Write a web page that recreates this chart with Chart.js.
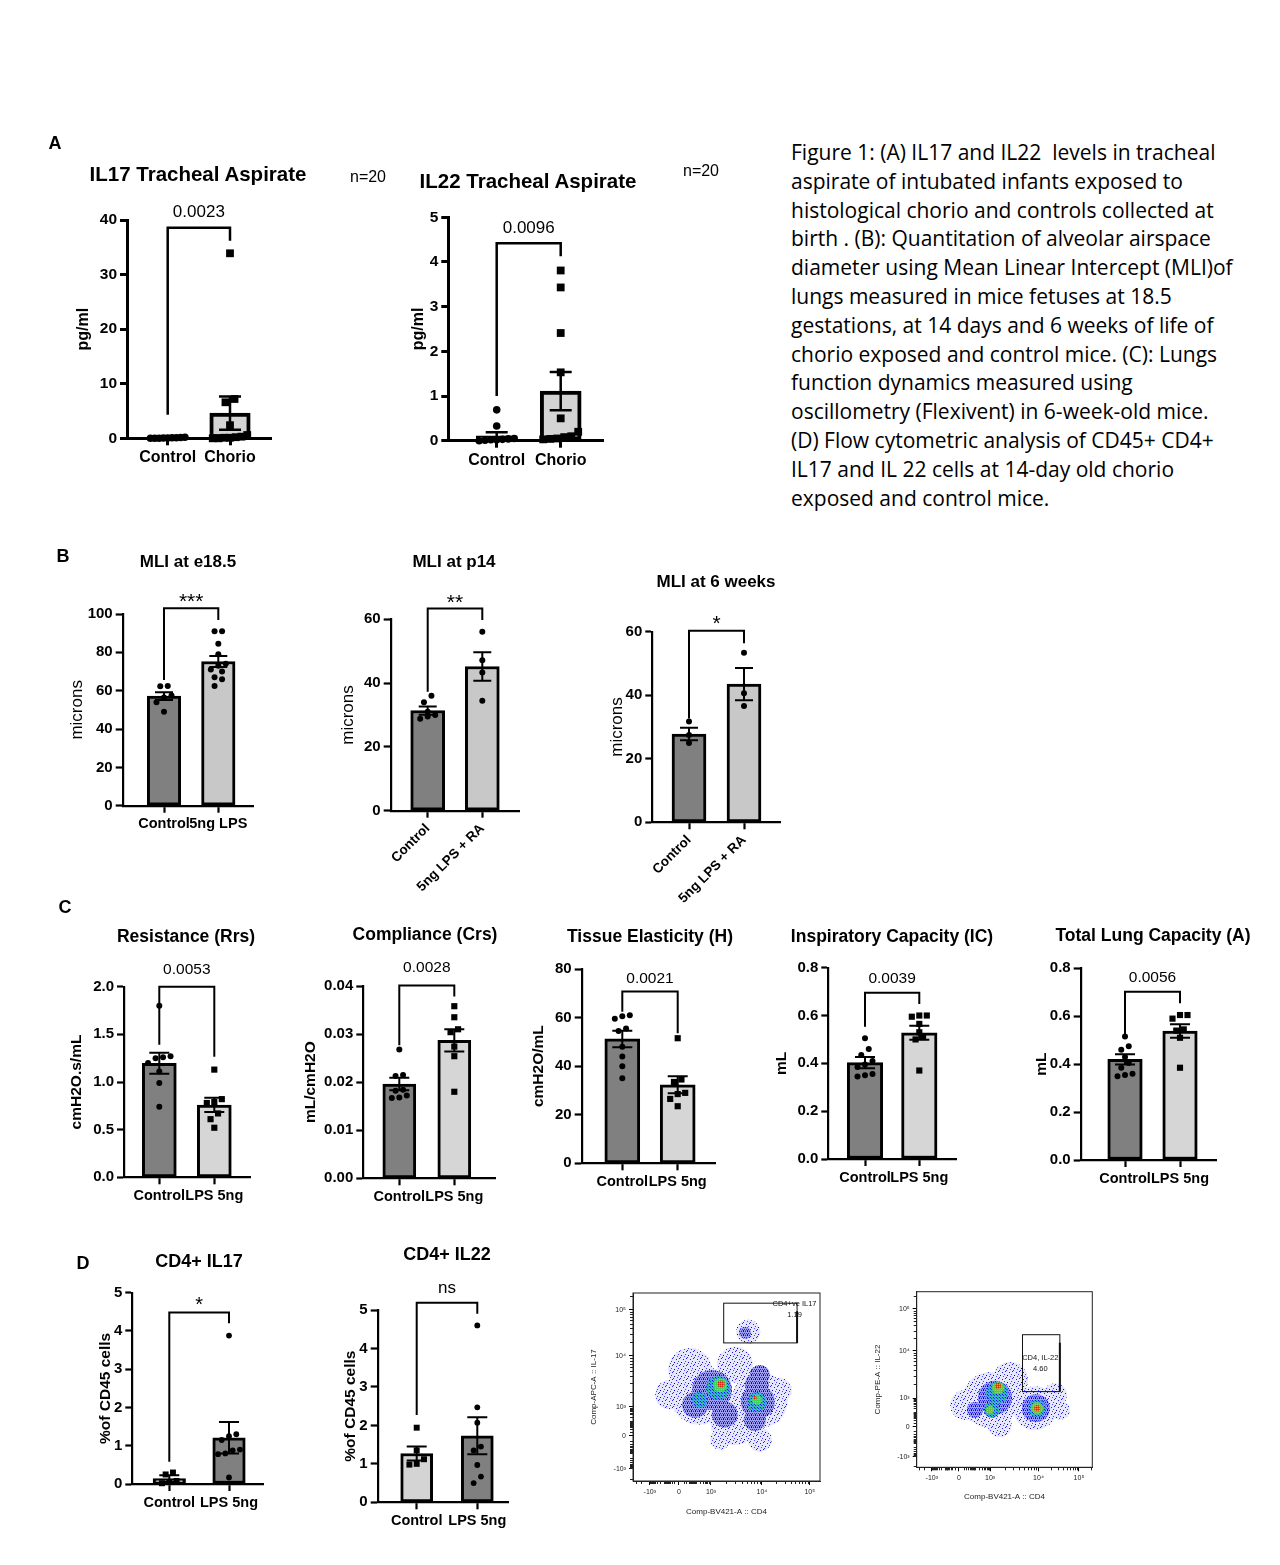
<!DOCTYPE html>
<html>
<head>
<meta charset="utf-8">
<script src="https://cdn.jsdelivr.net/npm/chart.js@4.4.1/dist/chart.umd.min.js"></script>
<style>
html, body { margin: 0; padding: 0; background: #fff; }
#page { position: relative; width: 1280px; height: 1565px; overflow: hidden; background: #fff;
        font-family: "Liberation Sans", Arial, sans-serif; color: #000; }
.t { position: absolute; white-space: nowrap; transform: translate(-50%, -50%); line-height: 1; }
#caption { position: absolute; left: 791px; top: 138px; font-family: "Open Sans", sans-serif;
           font-size: 21px; line-height: 28.8px; white-space: nowrap; }
canvas { position: absolute; }
</style>
</head>
<body>
<div id="page">
  <div id="caption">
    <div>Figure 1: (A) IL17 and IL22&nbsp; levels in tracheal</div>
    <div>aspirate of intubated infants exposed to</div>
    <div>histological chorio and controls collected at</div>
    <div>birth . (B): Quantitation of alveolar airspace</div>
    <div>diameter using Mean Linear Intercept (MLI)of</div>
    <div>lungs measured in mice fetuses at 18.5</div>
    <div>gestations, at 14 days and 6 weeks of life of</div>
    <div>chorio exposed and control mice. (C): Lungs</div>
    <div>function dynamics measured using</div>
    <div>oscillometry (Flexivent) in 6-week-old mice.</div>
    <div>(D) Flow cytometric analysis of CD45+ CD4+</div>
    <div>IL17 and IL 22 cells at 14-day old chorio</div>
    <div>exposed and control mice.</div>
  </div>
</div>
<script>
// ---------- data ----------
const groupsA = ['Control', 'Chorio'];
const groupsB = ['Control', '5ng LPS'];
const groupsB2 = ['Control', '5ng LPS + RA'];
const groupsC = ['Control', 'LPS 5ng'];

// A: tracheal aspirate (pg/ml)
const il17Control = [0.2, 0.15, 0.1, 0.1, 0.05, 0.05, 0, 0, 0];
const il17Chorio = [33.9, 7.2, 6.6, 2.4, 0.6, 0.3, 0.2, 0.1, 0.1, 0, 0];
const il17Mean = [0.1, 4.6];
const il17Sem = [0.08, 3.05];

const il22Control = [0.69, 0.33, 0.05, 0.04, 0.03, 0.02, 0.02, 0.01, 0.0];
const il22Chorio = [3.81, 3.43, 2.41, 1.53, 0.5, 0.2, 0.1, 0.08, 0.05, 0.04, 0.03];
const il22Mean = [0.11, 1.11];
const il22Sem = [0.08, 0.43];

// B: mean linear intercept (microns)
const mliE185Control = [62.5, 62.3, 57.5, 56.5, 54, 49];
const mliE185Lps = [91, 91, 84.5, 79, 74, 73, 71, 70, 67, 66, 62.5];
const mliE185Mean = [57.2, 75.2];
const mliE185Sem = [2.0, 2.9];

const mliP14Control = [36, 34, 31, 30, 29.5, 28.8];
const mliP14Lps = [56.1, 47.2, 43.3, 34.5];
const mliP14Mean = [31.4, 45.2];
const mliP14Sem = [1.3, 4.5];

const mli6wControl = [31.7, 27.5, 25];
const mli6wLps = [53.4, 40.6, 36.6];
const mli6wMean = [27.8, 43.5];
const mli6wSem = [2.0, 5.1];

// C: flexivent
const rrsControl = [1.80, 1.27, 1.26, 1.25, 1.20, 1.11, 0.99, 0.74];
const rrsLps = [1.13, 0.82, 0.79, 0.78, 0.67, 0.61, 0.52];
const rrsMean = [1.196, 0.759];
const rrsSem = [0.11, 0.075];

const crsControl = [0.0268, 0.0215, 0.0213, 0.0184, 0.0182, 0.0172, 0.0168, 0.0167];
const crsLps = [0.0358, 0.0335, 0.031, 0.0304, 0.0274, 0.0254, 0.018];
const crsMean = [0.0196, 0.0287];
const crsSem = [0.0013, 0.0023];

const hControl = [61, 60.5, 59.5, 55.5, 54.5, 48, 44, 40, 35];
const hLps = [51.5, 34.5, 33.5, 29, 28.5, 26.5, 23.5];
const hMean = [51.2, 32.3];
const hSem = [3.4, 3.5];

const icControl = [0.505, 0.46, 0.435, 0.41, 0.395, 0.385, 0.355, 0.35, 0.345];
const icLps = [0.60, 0.60, 0.595, 0.565, 0.53, 0.51, 0.50, 0.37];
const icMean = [0.403, 0.528];
const icSem = [0.024, 0.029];

const tlcControl = [0.515, 0.475, 0.46, 0.43, 0.405, 0.385, 0.36, 0.355, 0.35];
const tlcLps = [0.605, 0.605, 0.59, 0.545, 0.54, 0.51, 0.385];
const tlcMean = [0.42, 0.538];
const tlcSem = [0.021, 0.028];

// D: % of CD45 cells
const cd4Il17Control = [0.3, 0.25, 0.08, 0.05, 0.02];
const cd4Il17Lps = [3.88, 1.3, 1.25, 1.15, 0.9, 0.88, 0.8, 0.78, 0.17];
const cd4Il17Mean = [0.14, 1.21];
const cd4Il17Sem = [0.09, 0.41];

const cd4Il22Control = [1.94, 1.35, 1.12, 1.0, 0.98];
const cd4Il22Lps = [4.6, 2.47, 2.07, 1.45, 1.35, 0.97, 0.67, 0.5];
const cd4Il22Mean = [1.27, 1.73];
const cd4Il22Sem = [0.18, 0.48];

// flow plots: axis in display (biexponential) units, cluster blobs by density level
const flowTickLabels = ['-10³', '0', '10³', '10⁴', '10⁵'];
const flow1XTicks = [1.80, 2.37, 3, 4, 4.94];
const flow1YTicks = [1.72, 2.40, 3, 4.05, 5.0];
const flow2XTicks = [1.69, 2.30, 3, 4.09, 5.0];
const flow2YTicks = [1.69, 2.36, 3, 4.06, 5.0];

const flow1Sparse = [{x: 2.78, y: 3.25, r: 30}, {x: 3.96, y: 3.14, r: 28}, {x: 2.59, y: 3.76, r: 22}, {x: 3.47, y: 2.73, r: 25},
  {x: 2.20, y: 3.25, r: 15}, {x: 4.35, y: 3.35, r: 12}, {x: 3.18, y: 2.32, r: 10}, {x: 3.96, y: 2.32, r: 12},
  {x: 3.73, y: 4.55, r: 12}, {x: 3.47, y: 3.87, r: 18}];
const flow1Medium = [{x: 3.02, y: 3.35, r: 20}, {x: 3.92, y: 3.10, r: 17}, {x: 2.69, y: 3.04, r: 13}, {x: 3.96, y: 3.66, r: 10},
  {x: 3.27, y: 2.84, r: 13}, {x: 3.67, y: 4.53, r: 6}, {x: 3.90, y: 3.45, r: 12}, {x: 3.86, y: 2.73, r: 11}];
const flow1Dense = [{x: 3.14, y: 3.39, r: 12}, {x: 3.90, y: 3.10, r: 10}, {x: 2.78, y: 3.14, r: 8}];
const flow1High = [{x: 3.18, y: 3.45, r: 7}, {x: 3.90, y: 3.14, r: 5}];
const flow1Peak = [{x: 3.20, y: 3.47, r: 3.5}, {x: 3.86, y: 3.19, r: 2}];
const flow1Gate = {x0: 3.25, x1: 4.69, y0: 4.32, y1: 5.14};
const flow1GateText = ['CD4+ve IL17', '1.19'];

const flow2Sparse = [{x: 3.00, y: 2.96, r: 28}, {x: 4.01, y: 2.78, r: 22}, {x: 2.44, y: 2.85, r: 15}, {x: 3.45, y: 3.41, r: 18},
  {x: 4.46, y: 3.07, r: 12}, {x: 3.22, y: 2.40, r: 12}, {x: 4.57, y: 2.74, r: 10}];
const flow2Medium = [{x: 3.11, y: 3.01, r: 17}, {x: 4.03, y: 2.78, r: 14}, {x: 2.66, y: 2.74, r: 8}];
const flow2Dense = [{x: 3.16, y: 3.12, r: 11}, {x: 3.04, y: 2.74, r: 8}, {x: 4.06, y: 2.78, r: 9}];
const flow2High = [{x: 3.18, y: 3.23, r: 6}, {x: 4.06, y: 2.78, r: 6}, {x: 3.00, y: 2.74, r: 4}];
const flow2Peak = [{x: 3.18, y: 3.28, r: 3}, {x: 4.06, y: 2.78, r: 3}];
const flow2Gate = {x0: 3.73, x1: 4.57, y0: 3.15, y1: 4.42};
const flow2GateText = ['CD4, IL-22', '4.60'];

// ---------- helpers ----------
Chart.defaults.font.family = '"Liberation Sans", Arial, sans-serif';
Chart.defaults.color = '#000';
const page = document.getElementById('page');
const barSpec = new Map();
const flowSpec = new Map();

function addText(text, x, y, size, bold, color) {
  const d = document.createElement('div');
  d.className = 't';
  d.textContent = text;
  d.style.left = x + 'px';
  d.style.top = y + 'px';
  d.style.fontSize = size + 'px';
  d.style.fontWeight = bold ? 'bold' : 'normal';
  if (color) d.style.color = color;
  page.appendChild(d);
}

// canvas positioned so that the chart area lands at (x0, yTop)
function place(x0, yTop, plotW, plotH, W, T, R, H) {
  const left = Math.round(x0 - W), top = Math.round(yTop - T);
  const Wp = x0 - left, Tp = yTop - top;
  const w = Math.round(Wp + plotW + R), h = Math.round(Tp + plotH + H);
  const cv = document.createElement('canvas');
  cv.width = w; cv.height = h;
  cv.style.left = left + 'px'; cv.style.top = top + 'px';
  cv.style.width = w + 'px'; cv.style.height = h + 'px';
  page.appendChild(cv);
  return { cv, Wp, Tp, Rp: w - Wp - plotW, Hp: h - Tp - plotH };
}

// rows of near-equal values spread sideways, like a prism scatter
function swarm(vals, ppy, diam, half) {
  const order = vals.map((v, i) => i).sort((a, b) => vals[a] - vals[b]);
  const offs = vals.map(() => 0);
  let row = [];
  const flush = () => {
    const k = row.length;
    const step = k > 1 ? Math.min(diam, 2 * half / (k - 1)) : 0;
    row.forEach((j, n) => { offs[j] = (n - (k - 1) / 2) * step; });
    row = [];
  };
  order.forEach(i => {
    if (row.length && (vals[i] - vals[row[0]]) * ppy > diam * 0.9) flush();
    row.push(i);
  });
  flush();
  return offs;
}

const barDeco = {
  id: 'barDeco',
  afterDatasetsDraw(chart) {
    const s = barSpec.get(chart.canvas);
    if (!s) return;
    const ctx = chart.ctx, x = chart.scales.x, y = chart.scales.y;
    ctx.save();
    ctx.strokeStyle = '#000';
    ctx.lineWidth = s.ew;
    s.means.forEach((m, i) => {
      const px = x.getPixelForValue(i);
      const hi = y.getPixelForValue(m + s.sems[i]);
      const lo = y.getPixelForValue(Math.max(m - s.sems[i], 0));
      ctx.beginPath();
      ctx.moveTo(px, hi); ctx.lineTo(px, lo);
      ctx.moveTo(px - s.cap, hi); ctx.lineTo(px + s.cap, hi);
      ctx.moveTo(px - s.cap, lo); ctx.lineTo(px + s.cap, lo);
      ctx.stroke();
    });
    const b = s.br;
    const xl = x.getPixelForValue(0), xr = x.getPixelForValue(1), yt = y.getPixelForValue(b.top);
    ctx.lineWidth = s.lw;
    ctx.beginPath();
    ctx.moveTo(xl, y.getPixelForValue(b.left));
    ctx.lineTo(xl, yt); ctx.lineTo(xr, yt);
    ctx.lineTo(xr, y.getPixelForValue(b.right));
    ctx.stroke();
    ctx.fillStyle = '#000';
    ctx.font = s.sigSize + 'px "Liberation Sans", Arial, sans-serif';
    ctx.textAlign = 'center';
    ctx.textBaseline = 'alphabetic';
    const k = /\*/.test(s.sig) ? 0.55 : /^[a-z]+$/.test(s.sig) ? 0.26 : 0.36;
    ctx.fillText(s.sig, (xl + xr) / 2, y.getPixelForValue(b.label) + k * s.sigSize);
    ctx.restore();
  }
};

function minorTicks(tp) {
  const out = [];
  const f = v => Math.log10(1 + v / 10) / Math.log10(101);
  [10, 20, 30, 40, 50, 60, 70, 80, 90, 100, 200, 300, 400, 500, 600, 700, 800, 900].forEach(v => {
    out.push(tp[1] + (tp[2] - tp[1]) * f(v));
    out.push(tp[1] - (tp[1] - tp[0]) * f(v));
  });
  for (let k = 2; k <= 9; k++) {
    out.push(tp[2] + (tp[3] - tp[2]) * Math.log10(k));
    out.push(tp[3] + (tp[4] - tp[3]) * Math.log10(k));
    out.push(tp[0] - (tp[1] - tp[0]) * Math.log10(k));
    out.push(tp[4] + (tp[4] - tp[3]) * Math.log10(k));
  }
  return out;
}

const flowDeco = {
  id: 'flowDeco',
  afterDraw(chart) {
    const f = flowSpec.get(chart.canvas);
    if (!f) return;
    const ctx = chart.ctx, a = chart.chartArea, x = chart.scales.x, y = chart.scales.y;
    ctx.save();
    ctx.strokeStyle = '#222';
    ctx.lineWidth = 1;
    ctx.strokeRect(a.left, a.top, a.right - a.left, a.bottom - a.top);
    ctx.beginPath();
    minorTicks(f.xt).forEach(v => {
      if (v <= f.xr[0] || v >= f.xr[1]) return;
      const px = Math.round(x.getPixelForValue(v)) + 0.5;
      ctx.moveTo(px, a.bottom); ctx.lineTo(px, a.bottom + 3);
    });
    minorTicks(f.yt).forEach(v => {
      if (v <= f.yr[0] || v >= f.yr[1]) return;
      const py = Math.round(y.getPixelForValue(v)) + 0.5;
      ctx.moveTo(a.left, py); ctx.lineTo(a.left - 3, py);
    });
    ctx.stroke();
    const g = f.gate;
    const gx0 = x.getPixelForValue(g.x0), gx1 = x.getPixelForValue(g.x1);
    const gy0 = y.getPixelForValue(g.y0), gy1 = y.getPixelForValue(g.y1);
    ctx.strokeStyle = '#111';
    ctx.strokeRect(gx0, gy1, gx1 - gx0, gy0 - gy1);
    ctx.lineWidth = 2;
    ctx.beginPath(); ctx.moveTo(gx1, gy1 + 8); ctx.lineTo(gx1, gy0); ctx.stroke();
    ctx.fillStyle = '#111';
    ctx.font = '7.5px "Liberation Sans", Arial, sans-serif';
    ctx.textAlign = 'center';
    ctx.textBaseline = 'middle';
    f.gateText.forEach((t, i) => ctx.fillText(t, x.getPixelForValue(f.label.x), y.getPixelForValue(f.label.y[i])));
    ctx.restore();
  }
};

Chart.register(barDeco, flowDeco);

function barChart(s) {
  const plotW = s.xEnd - s.x0, plotH = s.yBot - s.yTop;
  const W = s.x0 - s.ytx + 0.6 * s.ytSize;
  const p = place(s.x0, s.yTop, plotW, plotH, W, 48, 30, s.rot ? 110 : 38);
  barSpec.set(p.cv, s);
  const ppx = s.pos[1] - s.pos[0];
  const ppy = plotH / s.yMax;
  const diam = 2 * s.ptR + 1.5;
  const pts = s.points.map((vals, g) => {
    const offs = swarm(vals, ppy, diam, s.barW / 2 - 3);
    return {
      type: 'scatter', order: 0, clip: false,
      data: vals.map((v, i) => ({ x: g + offs[i] / ppx, y: v })),
      pointStyle: s.shapes[g],
      pointRadius: s.shapes[g] === 'rect' ? s.ptR * 1.45 : s.ptR,
      backgroundColor: '#000', borderColor: '#000', borderWidth: 0
    };
  });
  const grid = { display: true, drawOnChartArea: false, drawTicks: true, tickLength: 7,
                 tickWidth: s.aw, tickColor: '#000', offset: false };
  const border = { display: true, width: s.aw, color: '#000' };
  new Chart(p.cv, {
    type: 'bar',
    data: {
      datasets: [{
        type: 'bar', order: 2,
        data: s.means.map((m, i) => ({ x: i, y: m })),
        backgroundColor: s.colors, borderColor: '#000', borderWidth: s.bw,
        borderSkipped: false, barThickness: s.barW
      }, ...pts]
    },
    options: {
      responsive: false, animation: false, events: [],
      layout: { autoPadding: false, padding: { top: p.Tp, right: p.Rp, left: 0, bottom: 0 } },
      plugins: { legend: { display: false }, tooltip: { enabled: false } },
      scales: {
        x: {
          type: 'linear', offset: false,
          min: -(s.pos[0] - s.x0) / ppx, max: 1 + (s.xEnd - s.pos[1]) / ppx,
          afterBuildTicks: sc => { sc.ticks = [{ value: 0 }, { value: 1 }]; },
          afterFit: sc => { sc.height = p.Hp; sc.paddingLeft = 0; sc.paddingRight = 0; },
          ticks: { autoSkip: false, maxRotation: s.rot, minRotation: s.rot, padding: 3, color: '#000',
                   font: { size: s.labelSize, weight: 'bold' }, callback: v => s.labels[v] },
          grid, border
        },
        y: {
          type: 'linear', min: 0, max: s.yMax,
          afterFit: sc => { sc.width = p.Wp; sc.paddingTop = 0; sc.paddingBottom = 0; },
          ticks: { stepSize: s.step, padding: 3, color: '#000',
                   font: { size: s.tickSize, weight: 'bold' }, callback: v => v.toFixed(s.dec) },
          title: { display: true, text: s.yTitle, padding: 0, color: '#000',
                   font: { size: s.ytSize, weight: s.ytBold ? 'bold' : 'normal' } },
          grid, border
        }
      }
    }
  });
  addText(s.title, s.tx, s.ty, s.tsize, true);
}

// speckled fills: a light base with scattered event-coloured pixels
function speckle(size, base, dots) {
  const c = document.createElement('canvas');
  c.width = c.height = size;
  const g = c.getContext('2d');
  g.fillStyle = base;
  g.fillRect(0, 0, size, size);
  dots.forEach(([dx, dy, col]) => { g.fillStyle = col; g.fillRect(dx, dy, 1, 1); });
  return g.createPattern(c, 'repeat');
}

const flowFills = [
  speckle(7, '#e6e6fd', [[0, 0, '#2b2bff'], [3, 2, '#1c1cd8'], [5, 4, '#3d3dff'], [1, 5, '#0000b0'], [4, 6, '#4a4aff'], [6, 1, '#2020e8']]),
  speckle(4, '#9c9cf3', [[0, 0, '#1a1aff'], [2, 0, '#0000c0'], [1, 2, '#3030ff'], [3, 2, '#1f1fe0'], [0, 3, '#20a0e0'], [2, 3, '#1010b8']]),
  speckle(3, '#44a0d4', [[0, 0, '#1010e0'], [1, 0, '#20c0e0'], [2, 1, '#28c870'], [0, 2, '#30d0c0'], [1, 1, '#1a40ff']]),
  speckle(2, '#6cc446', [[0, 0, '#a8d820'], [1, 1, '#40d060']]),
  speckle(2, '#e8581c', [[0, 0, '#f0a020'], [1, 1, '#d82010']])
];

function flowChart(f) {
  const plotW = f.right - f.left, plotH = f.bottom - f.top;
  const p = place(f.left, f.top, plotW, plotH, f.left - f.ytx + 4.8, 6, 14, f.xty + 4.8 - f.bottom);
  flowSpec.set(p.cv, f);
  const levels = [f.sparse, f.medium, f.dense, f.high, f.peak];
  const grid = { display: true, drawOnChartArea: false, drawTicks: true, tickLength: 4,
                 tickWidth: 1, tickColor: '#000' };
  const border = { display: true, width: 1, color: '#222' };
  new Chart(p.cv, {
    type: 'bubble',
    data: { datasets: levels.map((d, i) => ({ data: d, backgroundColor: flowFills[i], borderWidth: 0, order: 5 - i })) },
    options: {
      responsive: false, animation: false, events: [],
      layout: { autoPadding: false, padding: { top: p.Tp, right: p.Rp, left: 0, bottom: 0 } },
      plugins: { legend: { display: false }, tooltip: { enabled: false } },
      scales: {
        x: {
          type: 'linear', min: f.xr[0], max: f.xr[1],
          afterBuildTicks: sc => { sc.ticks = f.xt.map(v => ({ value: v })); },
          afterFit: sc => { sc.height = p.Hp; sc.paddingLeft = 0; sc.paddingRight = 0; },
          ticks: { autoSkip: false, maxRotation: 0, minRotation: 0, padding: 3, color: '#222',
                   font: { size: 7 }, callback: (v, i) => flowTickLabels[i] },
          title: { display: true, text: f.xTitle, padding: 0, color: '#222', font: { size: 8 } },
          grid, border
        },
        y: {
          type: 'linear', min: f.yr[0], max: f.yr[1],
          afterBuildTicks: sc => { sc.ticks = f.yt.map(v => ({ value: v })); },
          afterFit: sc => { sc.width = p.Wp; sc.paddingTop = 0; sc.paddingBottom = 0; },
          ticks: { autoSkip: false, padding: 3, color: '#222', font: { size: 7 },
                   callback: (v, i) => flowTickLabels[i] },
          title: { display: true, text: f.yTitle, padding: 0, color: '#222', font: { size: 8 } },
          grid, border
        }
      }
    }
  });
}

// ---------- layout ----------
const colorsA = ['#ffffff', '#d4d4d4'];
const colorsB = ['#808080', '#c8c8c8'];
const colorsC = ['#808080', '#d6d6d6'];
const colorsD = ['#d4d4d4', '#808080'];

const styleA = { tsize: 20.5, ytSize: 16, ytBold: true, tickSize: 15.5, labelSize: 16, rot: 0,
                 bw: 4, aw: 3, ew: 2.5, lw: 2.5, cap: 11, ptR: 3.8, sigSize: 17, shapes: ['circle', 'rect'], colors: colorsA, labels: groupsA };
const styleB = { tsize: 17, ytSize: 17, ytBold: false, tickSize: 15, labelSize: 14.5, rot: 0,
                 bw: 3, aw: 2.2, ew: 2, lw: 2, cap: 9, ptR: 3, sigSize: 21, shapes: ['circle', 'circle'], colors: colorsB };
const styleC = { tsize: 17.5, ytSize: 15.5, ytBold: true, tickSize: 15, labelSize: 14.5, rot: 0,
                 bw: 3, aw: 2.2, ew: 2, lw: 2, cap: 10, ptR: 3, sigSize: 15.5, shapes: ['circle', 'rect'], colors: colorsC, labels: groupsC };
const styleD = { tsize: 18, ytSize: 15.5, ytBold: true, tickSize: 15, labelSize: 14.5, rot: 0,
                 bw: 3, aw: 2.2, ew: 2, lw: 2, cap: 10, ptR: 2.9, sigSize: 18, shapes: ['rect', 'circle'], colors: colorsD, labels: groupsC };

const specs = [
  { ...styleA, title: 'IL17 Tracheal Aspirate', tx: 198, ty: 174,
    x0: 127, xEnd: 271.7, yTop: 220, yBot: 438.3, pos: [167.7, 230], barW: 40.5,
    yMax: 40, step: 10, dec: 0, means: il17Mean, sems: il17Sem, points: [il17Control, il17Chorio],
    yTitle: 'pg/ml', ytx: 83.3, sig: '0.0023', br: { top: 38.6, left: 4.3, right: 36.2, label: 41.7 } },
  { ...styleA, title: 'IL22 Tracheal Aspirate', tx: 528, ty: 181,
    x0: 448.3, xEnd: 603.3, yTop: 217.3, yBot: 440.7, pos: [496.7, 560.7], barW: 41,
    yMax: 5, step: 1, dec: 0, means: il22Mean, sems: il22Sem, points: [il22Control, il22Chorio],
    yTitle: 'pg/ml', ytx: 418.3, sig: '0.0096', br: { top: 4.42, left: 1.0, right: 4.13, label: 4.78 } },
  { ...styleB, title: 'MLI at e18.5', tx: 188, ty: 561, labels: groupsB,
    x0: 122.7, xEnd: 253.3, yTop: 614, yBot: 805.7, pos: [164, 218.3], barW: 33.5,
    yMax: 100, step: 20, dec: 0, means: mliE185Mean, sems: mliE185Sem, points: [mliE185Control, mliE185Lps],
    yTitle: 'microns', ytx: 77.3, sig: '***', br: { top: 103, left: 65.6, right: 96.9, label: 109 } },
  { ...styleB, title: 'MLI at p14', tx: 454, ty: 561, labels: groupsB2, rot: 45, labelSize: 13.5,
    x0: 390.7, xEnd: 519.3, yTop: 619.3, yBot: 810.7, pos: [427.7, 482.3], barW: 34,
    yMax: 60, step: 20, dec: 0, means: mliP14Mean, sems: mliP14Sem, points: [mliP14Control, mliP14Lps],
    yTitle: 'microns', ytx: 348.3, sig: '**', br: { top: 63.4, left: 37.3, right: 59.8, label: 67 } },
  { ...styleB, title: 'MLI at 6 weeks', tx: 716, ty: 581, labels: groupsB2, rot: 45, labelSize: 13.5,
    x0: 652.3, xEnd: 780.7, yTop: 631.7, yBot: 822.3, pos: [689, 744], barW: 34,
    yMax: 60, step: 20, dec: 0, means: mli6wMean, sems: mli6wSem, points: [mli6wControl, mli6wLps],
    yTitle: 'microns', ytx: 616.7, sig: '*', br: { top: 60.3, left: 32.7, right: 56.4, label: 64.2 } },
  { ...styleC, title: 'Resistance (Rrs)', tx: 186, ty: 937,
    x0: 124, xEnd: 250, yTop: 986.7, yBot: 1177.3, pos: [159.3, 214.3], barW: 34,
    yMax: 2, step: 0.5, dec: 1, means: rrsMean, sems: rrsSem, points: [rrsControl, rrsLps],
    yTitle: 'cmH2O.s/mL', ytx: 76.7, sig: '0.0053', br: { top: 2.0, left: 1.39, right: 1.265, label: 2.19 } },
  { ...styleC, title: 'Compliance (Crs)', tx: 425, ty: 935,
    x0: 363.3, xEnd: 495, yTop: 986, yBot: 1178.3, pos: [399.3, 454.3], barW: 33,
    yMax: 0.04, step: 0.01, dec: 2, means: crsMean, sems: crsSem, points: [crsControl, crsLps],
    yTitle: 'mL/cmH2O', ytx: 310, sig: '0.0028', br: { top: 0.0401, left: 0.0277, right: 0.0378, label: 0.044 } },
  { ...styleC, title: 'Tissue Elasticity (H)', tx: 650, ty: 937,
    x0: 581.7, xEnd: 715, yTop: 969, yBot: 1163.3, pos: [622.3, 677.7], barW: 35,
    yMax: 80, step: 20, dec: 0, means: hMean, sems: hSem, points: [hControl, hLps],
    yTitle: 'cmH2O/mL', ytx: 538.3, sig: '0.0021', br: { top: 70.7, left: 62.4, right: 53.5, label: 76.6 } },
  { ...styleC, title: 'Inspiratory Capacity (IC)', tx: 892, ty: 937,
    x0: 828.3, xEnd: 956.7, yTop: 967.7, yBot: 1159, pos: [865, 919.3], barW: 35.5,
    yMax: 0.8, step: 0.2, dec: 1, means: icMean, sems: icSem, points: [icControl, icLps],
    yTitle: 'mL', ytx: 781.7, sig: '0.0039', br: { top: 0.695, left: 0.553, right: 0.648, label: 0.759 } },
  { ...styleC, title: 'Total Lung Capacity (A)', tx: 1153, ty: 936,
    x0: 1080.7, xEnd: 1216.7, yTop: 968.3, yBot: 1160, pos: [1125, 1180], barW: 34.5,
    yMax: 0.8, step: 0.2, dec: 1, means: tlcMean, sems: tlcSem, points: [tlcControl, tlcLps],
    yTitle: 'mL', ytx: 1041.7, sig: '0.0056', br: { top: 0.702, left: 0.522, right: 0.654, label: 0.765 } },
  { ...styleD, title: 'CD4+ IL17', tx: 199, ty: 1261,
    x0: 132.3, xEnd: 263.3, yTop: 1292.7, yBot: 1484, pos: [169.3, 229], barW: 32.5,
    yMax: 5, step: 1, dec: 0, means: cd4Il17Mean, sems: cd4Il17Sem, points: [cd4Il17Control, cd4Il17Lps],
    yTitle: '%of CD45 cells', ytx: 105, sig: '*', sigSize: 20, br: { top: 4.48, left: 0.58, right: 4.2, label: 4.8 } },
  { ...styleD, title: 'CD4+ IL22', tx: 447, ty: 1254,
    x0: 377.7, xEnd: 508.3, yTop: 1310, yBot: 1502.3, pos: [416.7, 477.3], barW: 32,
    yMax: 5, step: 1, dec: 0, means: cd4Il22Mean, sems: cd4Il22Sem, points: [cd4Il22Control, cd4Il22Lps],
    yTitle: '%of CD45 cells', ytx: 350, sig: 'ns', sigSize: 17, br: { top: 5.19, left: 2.27, right: 4.9, label: 5.56 } }
];

specs.forEach(barChart);

flowChart({ left: 633, right: 820, top: 1293, bottom: 1481, xr: [1.47, 5.14], yr: [1.47, 5.35],
  xt: flow1XTicks, yt: flow1YTicks, ytx: 594, xty: 1512,
  xTitle: 'Comp-BV421-A :: CD4', yTitle: 'Comp-APC-A :: IL-17',
  sparse: flow1Sparse, medium: flow1Medium, dense: flow1Dense, high: flow1High, peak: flow1Peak,
  gate: flow1Gate, gateText: flow1GateText, label: { x: 4.64, y: [5.12, 4.90] } });

flowChart({ left: 916.7, right: 1092.3, top: 1291.7, bottom: 1467.3, xr: [1.35, 5.30], yr: [1.46, 5.38],
  xt: flow2XTicks, yt: flow2YTicks, ytx: 878, xty: 1497,
  xTitle: 'Comp-BV421-A :: CD4', yTitle: 'Comp-PE-A :: IL-22',
  sparse: flow2Sparse, medium: flow2Medium, dense: flow2Dense, high: flow2High, peak: flow2Peak,
  gate: flow2Gate, gateText: flow2GateText, label: { x: 4.13, y: [3.90, 3.66] } });

// panel letters and loose labels
addText('A', 55, 143, 18, true);
addText('B', 63, 556, 18, true);
addText('C', 65, 907, 18, true);
addText('D', 83, 1263, 18, true);
addText('n=20', 368, 177, 16, false);
addText('n=20', 701, 171, 16, false);
</script>
</body>
</html>
